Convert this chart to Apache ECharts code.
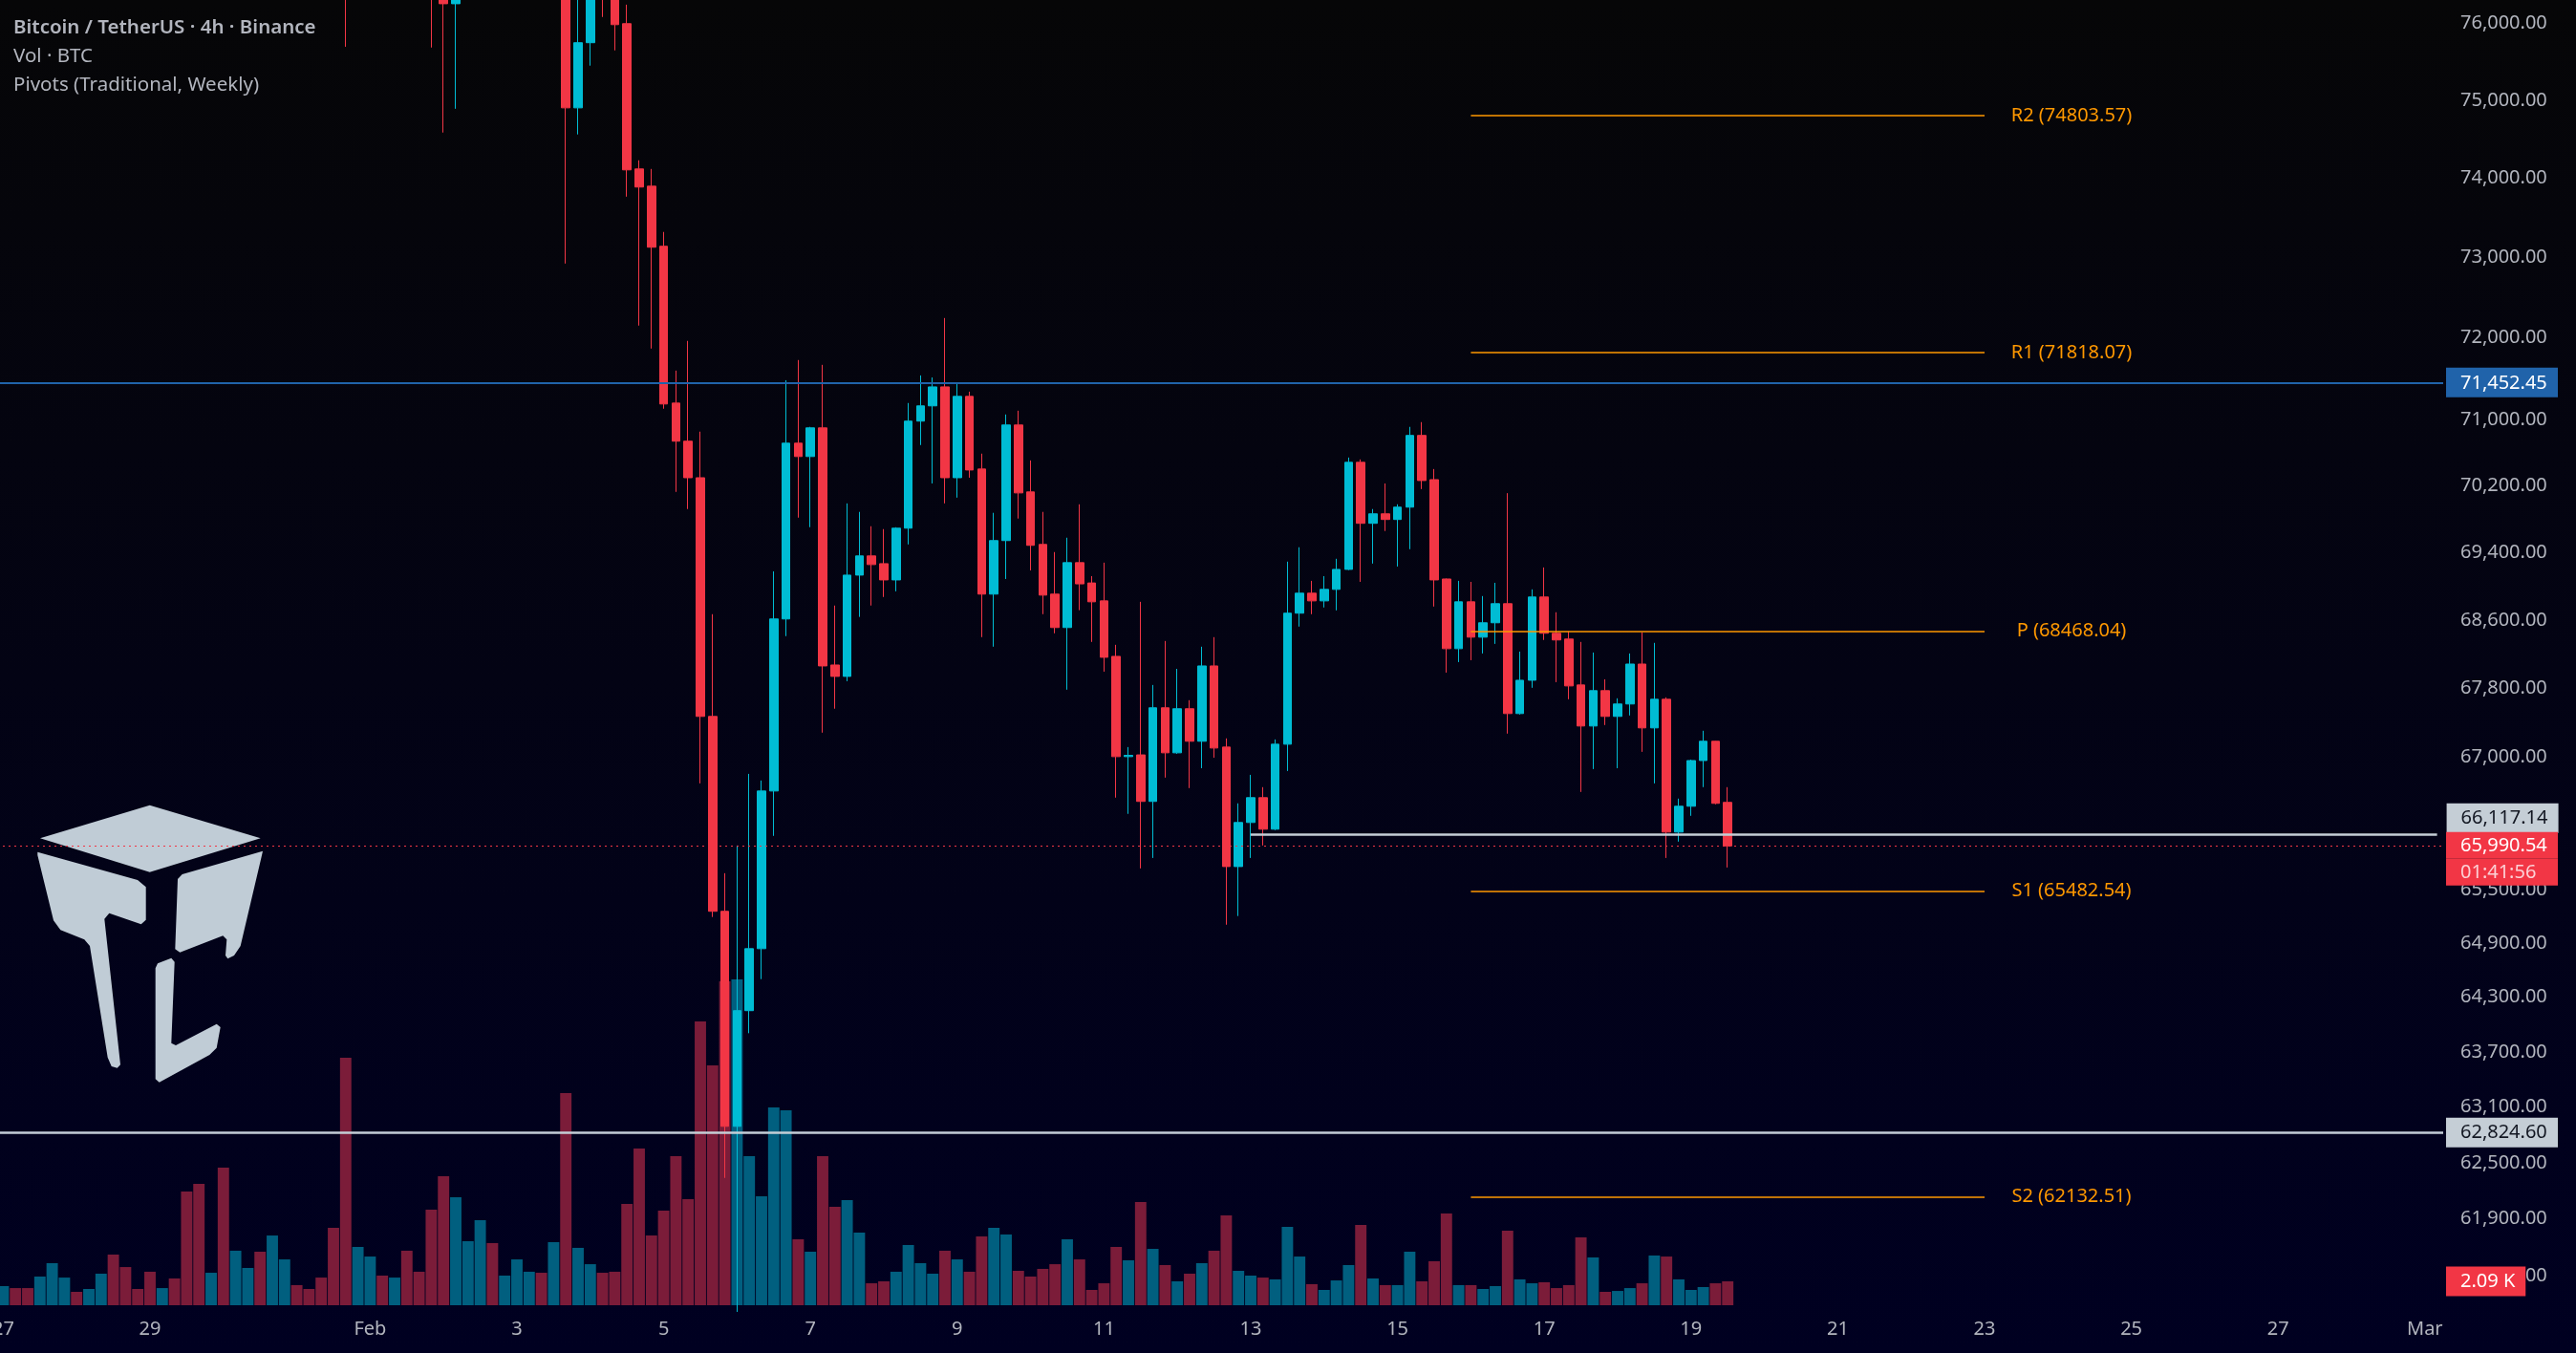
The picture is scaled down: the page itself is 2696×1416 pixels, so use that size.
<!DOCTYPE html>
<html lang="en">
<head>
  <meta charset="UTF-8">
  <title>BTCUSDT 4h</title>
  <style>
    html, body {margin: 0; padding: 0; background: #000;}
    #chart {width: 2696px; height: 1416px;}
  </style>
</head>
<body>
  <div id="chart"></div>

  <script src="https://cdn.jsdelivr.net/npm/echarts@6/dist/echarts.min.js"></script>
  <script>
    // 4h bars, first slot = 27 Jan 2026 00:00 UTC, empty slots run on past 1 Mar
    var startTime = Date.UTC(2026, 0, 27);
    var slotCount = 200;
    var tickDates = ['2026-01-27', '2026-01-29', '2026-02-01', '2026-02-03', '2026-02-05', '2026-02-07',
      '2026-02-09', '2026-02-11', '2026-02-13', '2026-02-15', '2026-02-17', '2026-02-19', '2026-02-21',
      '2026-02-23', '2026-02-25', '2026-02-27', '2026-03-01'];
    var monthNames = {'01': 'Jan', '02': 'Feb', '03': 'Mar'};

    var opens = [87800,88100,87900,87600,88000,88700,89100,88900,89200,89500,
      89000,88600,88400,88100,88300,87900,86200,84500,84900,83400,
      84200,84600,83800,84300,84700,84400,84100,83700,82600,78400,
      78900,79200,78800,79100,78500,78100,77300,76251,77800,78600,
      79100,78500,78800,79000,79200,78700,78900,74901,75743,76900,
      76500,75991,74120,73901,73143,71201,70737,70295,67474,65255,
      62891,64152,64838,66616,68612,70713,70551,70899,68072,67939,
      69130,69358,69266,69073,69689,70981,71167,71399,70295,71283,
      70400,68905,69541,70934,70124,69495,68905,68511,69278,69037,
      68825,68173,67010,67030,66497,67574,67054,67563,67187,68061,
      67120,65758,66257,66540,66181,67153,68680,68916,68825,68961,
      69198,70481,69747,69861,69793,69941,70807,70272,69084,68263,
      68814,68398,68567,68792,67507,67894,68871,68444,68376,67839,
      67363,67773,67474,67618,68083,67341,67673,66148,66442,66965,
      67187,66486];
    var highs = [88350,88250,88050,88200,88900,89300,89250,89350,89700,89600,
      89100,88700,88500,88450,88400,88000,86400,85200,85000,84500,
      84800,84700,84600,84900,84800,84500,84200,83800,82800,79300,
      79500,79300,79300,79200,78700,78200,77500,78100,78900,79300,
      79200,79000,79200,79400,79300,79100,79100,76800,77200,77200,
      76700,76239,74230,74120,73323,71599,71965,70853,68668,65683,
      65996,66812,66736,69175,71481,71729,70911,71670,68770,69986,
      69884,69712,69678,69700,71202,71540,71515,72248,71434,71341,
      70586,69873,71062,71108,70504,69884,69404,69575,69975,69118,
      69278,68308,67120,68814,67839,68353,68027,67662,68286,68398,
      67220,66475,66801,66660,67208,69290,69461,69062,69118,69324,
      70539,70516,69918,70226,69975,70911,70969,70400,69090,69062,
      69050,68882,69039,70109,68229,68961,69221,68691,68466,68342,
      68218,67905,67684,68207,68454,68331,67695,66529,66976,67308,
      67190,66660];
    var lows = [87600,87700,87400,87450,87900,88500,88750,88800,89000,88800,
      88400,88200,87900,88000,87700,85900,83900,84200,83100,83200,
      84000,83500,83600,84100,84200,83900,83400,82200,75690,77800,
      78500,78400,78600,78200,77600,75680,74584,74889,77500,78300,
      78100,78300,78600,78800,78400,78500,72926,74560,75445,76078,
      75643,73768,72154,71870,71132,70124,69918,66703,65191,62337,
      60920,63904,64500,66105,68410,69815,69701,67286,67563,67883,
      68636,68770,68871,68938,69495,70690,70226,69986,70055,70295,
      68398,68286,69084,69804,69186,68668,68443,67784,68715,68342,
      67994,66540,66355,65737,65855,66769,67043,66649,66877,66998,
      65105,65202,65855,65996,66170,66845,68522,68668,68747,68713,
      69190,69050,69267,69655,69232,69438,70158,68758,67983,68106,
      68128,68207,68319,67275,67496,67806,68365,67872,67673,66605,
      66867,67374,66877,67485,67065,66703,65855,66040,66333,66660,
      66464,65747];
    var closes = [88100,87900,87600,88000,88700,89100,88900,89200,89500,89000,
      88600,88400,88100,88300,87900,86200,84500,84900,83400,84200,
      84600,83800,84300,84700,84400,84100,83700,82600,78400,78900,
      79200,78800,79100,78500,78100,77300,76251,77800,78600,79100,
      78500,78800,79000,79200,78700,78900,74901,75743,76900,76500,
      75978,74108,73890,73131,71190,70737,70295,67474,65255,62891,
      64152,64838,66616,68612,70713,70551,70899,68061,67939,69130,
      69358,69255,69073,69689,70981,71167,71399,70295,71283,70388,
      68905,69541,70934,70112,69484,68893,68511,69278,69026,68814,
      68162,67010,67025,66497,67574,67054,67563,67187,68061,67109,
      65758,66257,66540,66181,67153,68680,68916,68825,68961,69198,
      70481,69747,69861,69793,69941,70807,70261,69073,68263,68814,
      68398,68567,68792,67507,67894,68871,68444,68365,67828,67363,
      67773,67474,67618,68083,67341,67673,66148,66442,66965,67187,
      66475,65990.54];
    // volume in thousand BTC
    var volumes = [1.67,1.50,1.50,2.51,3.68,2.42,1.17,1.42,2.76,4.43,
      3.34,1.42,2.93,1.50,2.34,9.95,10.62,2.84,12.04,4.77,
      3.26,4.68,6.10,4.01,1.76,1.42,2.42,6.77,21.65,5.10,
      4.26,2.59,2.42,4.77,2.93,8.36,11.29,9.45,5.60,7.44,
      5.43,2.59,4.01,2.93,2.84,5.52,18.56,5.02,3.59,2.84,
      2.93,8.86,13.71,6.10,8.28,13.04,9.28,24.83,20.98,28.34,
      28.51,13.04,9.53,17.31,17.05,5.77,4.68,13.04,8.61,9.20,
      6.35,1.92,2.09,2.93,5.27,3.68,2.76,4.77,4.01,2.93,
      6.02,6.77,6.19,3.01,2.51,3.18,3.59,5.77,4.01,1.34,
      1.92,5.10,3.93,9.03,4.93,3.51,2.09,2.76,3.68,4.77,
      7.86,3.01,2.59,2.42,2.26,6.86,4.26,1.84,1.34,2.17,
      3.51,7.02,2.34,1.76,1.76,4.68,2.09,3.85,8.03,1.76,
      1.76,1.42,1.67,6.52,2.26,1.92,2.01,1.50,1.76,5.94,
      4.18,1.17,1.25,1.50,1.92,4.35,4.26,2.26,1.34,1.59,
      1.92,2.09];

    var priceTicks = [76000, 75000, 74000, 73000, 72000, 71000, 70200, 69400, 68600, 67800,
      67000, 65500, 64900, 64300, 63700, 63100, 62500, 61900, 61300];
    var priceMax = 76300, priceMin = 60900;

    var pivots = [['R2', 74803.57], ['R1', 71818.07], ['P', 68468.04], ['S1', 65482.54], ['S2', 62132.51]];
    var pivotFrom = '2026-02-16 00:00', pivotTo = '2026-02-23 00:00';
    var resistPrice = 71452.45;
    var rayPrice = 66117.14, rayFrom = '2026-02-13 00:00';
    var supportPrice = 62824.60;
    var countdown = '01:41:56';

    var UP = '#00BCD4', DOWN = '#F23645';
    var VOL_UP = '#015F7F', VOL_DOWN = '#7B1C39';
    var TXT = '#B2B5BE';
    var FONT = 'Noto Sans';

    var cats = [];
    for (var k = 0; k < slotCount; k++) {
      var d = new Date(startTime + k * 4 * 3600 * 1000);
      cats.push(d.toISOString().slice(0, 13).replace('T', ' ') + ':00');
    }
    var tickIdx = {};
    tickDates.forEach(function (t) { tickIdx[cats.indexOf(t + ' 00:00')] = true; });

    var candleData = opens.map(function (o, i) {
      return [Math.log(o), Math.log(closes[i]), Math.log(lows[i]), Math.log(highs[i])];
    });
    var volData = volumes.map(function (v, i) {
      return {value: v, itemStyle: {color: closes[i] >= opens[i] ? VOL_UP : VOL_DOWN}};
    });

    function fmt(v) {
      return v.toLocaleString('en-US', {minimumFractionDigits: 2, maximumFractionDigits: 2});
    }
    // price-scale tag; spacerAbove / spacerBelow shift the visible box off the line
    function tagLabel(lines, spacerAbove, spacerBelow, distance) {
      var parts = [], rich = {sp1: {fontSize: 1, lineHeight: spacerAbove || 1},
        sp2: {fontSize: 1, lineHeight: spacerBelow || 1}};
      if (spacerAbove) parts.push('{sp1| }');
      lines.forEach(function (ln, n) {
        var pt = Math.ceil((ln.h - 20) / 2), pb = ln.h - 20 - pt;
        rich['t' + n] = {backgroundColor: ln.bg, color: ln.fg, fontFamily: FONT, fontSize: 20,
          width: 91, lineHeight: ln.h, padding: [pt, 11, pb, 15]};
        parts.push('{t' + n + '|' + ln.text + '}');
      });
      if (spacerBelow) parts.push('{sp2| }');
      return {show: true, position: 'end', distance: distance, opacity: 1,
        formatter: parts.join('\n'), rich: rich};
    }

    var lastClose = closes[closes.length - 1];
    var lastVol = volumes[volumes.length - 1];

    var markData = pivots.map(function (p) {
      return [{
        name: p[0] + ' (' + p[1].toFixed(2) + ')',
        coord: [cats.indexOf(pivotFrom), Math.log(p[1])],
        lineStyle: {color: '#FF9800', width: 1.5, type: 'solid'},
        label: {show: true, position: 'end', distance: 91, align: 'center', formatter: '{b}',
          color: '#FF9800', fontFamily: FONT, fontSize: 20}
      }, {coord: [cats.indexOf(pivotTo), Math.log(p[1])]}];
    });
    markData.push({
      yAxis: Math.log(resistPrice),
      lineStyle: {color: '#2063AA', width: 2, type: 'solid'},
      label: tagLabel([{text: fmt(resistPrice), bg: '#2063AA', fg: '#FFFFFF', h: 31}], 0, 0, 3)
    });
    markData.push({
      yAxis: Math.log(supportPrice),
      lineStyle: {color: '#C5CED6', width: 2.5, type: 'solid'},
      label: tagLabel([{text: fmt(supportPrice), bg: '#C5CED6', fg: '#131722', h: 31}], 0, 0, 3)
    });
    markData.push([{
      coord: [cats.indexOf(rayFrom), Math.log(rayPrice)],
      lineStyle: {color: '#C5CED6', width: 2.5, type: 'solid'},
      label: tagLabel([{text: fmt(rayPrice), bg: '#C5CED6', fg: '#131722', h: 31}], 0, 35, 10)
    }, {coord: [slotCount - 1, Math.log(rayPrice)]}]);
    markData.push({
      yAxis: Math.log(lastClose),
      lineStyle: {color: DOWN, width: 1, type: [2, 4]},
      label: tagLabel([
        {text: fmt(lastClose), bg: DOWN, fg: '#FFFFFF', h: 28},
        {text: countdown, bg: DOWN, fg: '#FCD0D5', h: 28}
      ], 27, 0, 3)
    });

    var logoColor = '#C0CCD6';
    var logoParts = [
      [[156.7,842.7],[272.7,877.3],[156.7,912.7],[42,877.3]],
      [[39.3,891.7],[144,921],[152.7,928.3],[152.7,962.7],[147.7,967.3],[114.3,955.7],[109.3,961.7],
       [126,1114.3],[122.7,1117.7],[116.7,1116],[112.7,1106.7],[94,990],[88.3,983.3],[63.3,973.3],
       [56,963.3],[39.3,895]],
      [[275,890.7],[273.3,898.3],[251.7,990],[245,1000],[238.3,1003.3],[236,1000],[237.3,983.3],
       [233.3,979.3],[188.3,996.7],[183.3,993.3],[186,920],[190.7,915]],
      [[165,1008.3],[179.3,1002.7],[182.7,1006.7],[179.3,1091.7],[184,1094],[226.7,1071.7],
       [230.7,1075],[226.7,1096.7],[219.3,1104],[166.7,1132.7],[162.7,1129.3],[162.7,1013.3]]
    ];

    var chart = echarts.init(document.getElementById('chart'));
    var option = {
      animation: false,
      backgroundColor: new echarts.graphic.LinearGradient(0, 0, 0, 1, [
        {offset: 0, color: '#060607'},
        {offset: 1, color: '#000021'}
      ]),
      title: {
        left: 14, top: 14, itemGap: 0, padding: 0,
        text: 'Bitcoin / TetherUS · 4h · Binance',
        subtext: 'Vol · BTC\nPivots (Traditional, Weekly)',
        textStyle: {color: TXT, fontFamily: FONT, fontSize: 20.5, fontWeight: 600, lineHeight: 30},
        subtextStyle: {color: TXT, fontFamily: FONT, fontSize: 20.5, lineHeight: 30}
      },
      graphic: logoParts.map(function (pts) {
        return {type: 'polygon', z: 0, silent: true, shape: {points: pts}, style: {fill: logoColor}};
      }),
      grid: [
        {left: -3, right: 139, top: 0, bottom: 41, outerBoundsMode: 'none', containLabel: false},
        {left: -3, right: 139, bottom: 50, height: 400, outerBoundsMode: 'none', containLabel: false}
      ],
      xAxis: [{
        type: 'category', gridIndex: 0, data: cats, boundaryGap: true,
        axisLine: {show: false}, axisTick: {show: false}, splitLine: {show: false},
        axisLabel: {
          color: TXT, fontFamily: FONT, fontSize: 20, margin: 6,
          interval: function (i) { return !!tickIdx[i]; },
          formatter: function (v) {
            var day = +v.slice(8, 10);
            return day === 1 ? monthNames[v.slice(5, 7)] : String(day);
          }
        }
      }, {
        type: 'category', gridIndex: 1, data: cats, boundaryGap: true, show: false
      }],
      yAxis: [{
        type: 'value', gridIndex: 0, position: 'right',
        min: Math.log(priceMin), max: Math.log(priceMax),
        splitLine: {show: false}, axisLine: {show: false}, axisTick: {show: false},
        axisLabel: {
          customValues: priceTicks.map(Math.log),
          formatter: function (v) { return fmt(Math.round(Math.exp(v))); },
          color: TXT, fontFamily: FONT, fontSize: 20, margin: 18, align: 'left'
        }
      }, {
        type: 'value', gridIndex: 1, min: 0, max: 400 * 0.0836, show: false,
        splitLine: {show: false}
      }],
      series: [{
        name: 'Vol',
        type: 'bar',
        xAxisIndex: 1, yAxisIndex: 1,
        barCategoryGap: '7%',
        z: 1,
        data: volData,
        markLine: {
          silent: true, symbol: ['none', 'none'], precision: 10,
          data: [{
            yAxis: lastVol,
            lineStyle: {color: 'rgba(0,0,0,0)', width: 0},
            label: {
              show: true, position: 'end', distance: 3, opacity: 1,
              formatter: lastVol.toFixed(2) + ' K',
              backgroundColor: DOWN, color: '#FFFFFF', fontFamily: FONT, fontSize: 20,
              lineHeight: 21, padding: [5, 11, 5, 15]
            }
          }]
        }
      }, {
        name: 'BTCUSDT',
        type: 'candlestick',
        xAxisIndex: 0, yAxisIndex: 0,
        barWidth: 9,
        clip: true,
        z: 3,
        itemStyle: {
          color: UP, color0: DOWN,
          borderColor: UP, borderColor0: DOWN,
          borderWidth: 1
        },
        data: candleData,
        markLine: {
          silent: true, symbol: ['none', 'none'], precision: 10,
          data: markData
        }
      }]
    };
    chart.setOption(option);
  </script>
</body>
</html>
